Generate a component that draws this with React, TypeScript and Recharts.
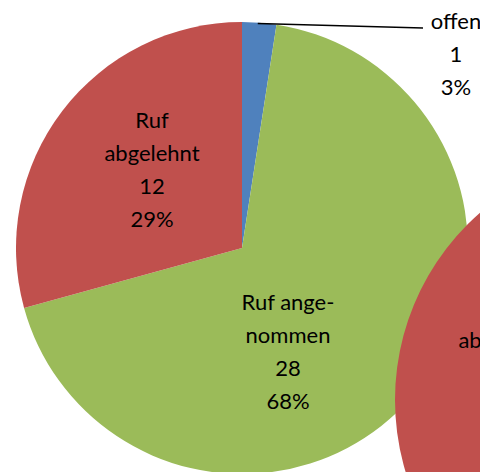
import { PieChart, Pie, Cell } from 'recharts';

const CATEGORIES = ['offen', 'Ruf ange-\nnommen', 'Ruf\nabgelehnt'];
const COUNTS = [1, 28, 12];
const PERCENTS = ['3%', '68%', '29%'];
const COLORS = ['#4F81BD', '#9BBB59', '#C0504D'];

// second (cut-off) chart on the right: only its red slice is visible
const SIDE_CATEGORIES = ['Ruf\nabgelehnt'];
const SIDE_COUNTS = [1];

const data = CATEGORIES.map((name, i) => ({ name, count: COUNTS[i], pct: PERCENTS[i] }));
const sideData = SIDE_CATEGORIES.map((name, i) => ({ name, count: SIDE_COUNTS[i] }));

// label centre offsets from the pie centre (Excel "best fit" placement)
const LABEL_OFFSET: Record<string, [number, number]> = {
  offen: [214, -194],
  'Ruf ange-\nnommen': [46, 104],
  'Ruf\nabgelehnt': [-90, -78],
};

const FONT = 'Lato, "Open Sans", sans-serif';
const FONT_SIZE = 22;
const LINE_H = 33;

function MainLabel(props: any) {
  const { cx, cy, outerRadius, startAngle, payload } = props;
  const name: string = payload.name;
  const lines = [...name.split('\n'), String(payload.count), payload.pct];
  const [ox, oy] = LABEL_OFFSET[name];
  const x = cx + ox;
  const y0 = cy + oy - ((lines.length - 1) * LINE_H) / 2;
  let leader = null;
  if (name === 'offen') {
    const a = ((startAngle - 4) * Math.PI) / 180;
    const sx = cx + outerRadius * Math.cos(a);
    const sy = cy - outerRadius * Math.sin(a);
    leader = <polyline points={`${sx},${sy + 1} ${x - 33},${y0 + 7}`} stroke="#000" strokeWidth={1.5} fill="none" />;
  }
  return (
    <g>
      {leader}
      <text x={x} y={y0} textAnchor="middle" fontFamily={FONT} fontSize={FONT_SIZE} fill="#000">
        {lines.map((l, i) => (
          <tspan key={i} x={x} dy={i === 0 ? '0.35em' : LINE_H}>
            {l}
          </tspan>
        ))}
      </text>
    </g>
  );
}

function SideLabel(props: any) {
  const { cx, cy, payload } = props;
  const lines = payload.name.split('\n');
  const x = cx - 138;
  const y0 = cy - 93;
  return (
    <text x={x} y={y0} textAnchor="middle" fontFamily={FONT} fontSize={FONT_SIZE} fill="#000">
      {lines.map((l: string, i: number) => (
        <tspan key={i} x={x} dy={i === 0 ? '0.35em' : LINE_H}>
          {l}
        </tspan>
      ))}
    </text>
  );
}

export default function App() {
  return (
    <div style={{ position: 'absolute', left: 0, top: 0, background: '#fff' }}>
      <PieChart width={480} height={472} margin={{ top: 0, right: 0, bottom: 0, left: 0 }}>
        <Pie
          data={data}
          dataKey="count"
          cx={242}
          cy={248}
          outerRadius={226}
          startAngle={90}
          endAngle={-270}
          stroke="none"
          label={MainLabel}
          labelLine={false}
          isAnimationActive={false}
        >
          {data.map((_, i) => (
            <Cell key={i} fill={COLORS[i]} />
          ))}
        </Pie>
        <Pie
          data={sideData}
          dataKey="count"
          cx={644}
          cy={400}
          outerRadius={249}
          startAngle={90}
          endAngle={-270}
          stroke="none"
          label={SideLabel}
          labelLine={false}
          isAnimationActive={false}
        >
          {sideData.map((_, i) => (
            <Cell key={i} fill="#C0504D" />
          ))}
        </Pie>
      </PieChart>
    </div>
  );
}
